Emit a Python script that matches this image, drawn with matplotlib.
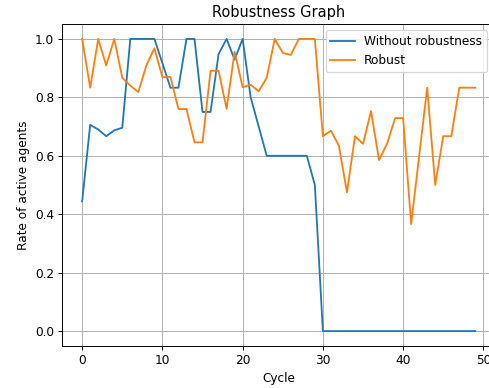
import matplotlib
matplotlib.use('Agg')
import matplotlib.pyplot as plt

cycles = list(range(50))

without_robustness = [
    0.444, 0.706, 0.69, 0.667, 0.687, 0.696, 1.0, 1.0, 1.0, 1.0,
    0.917, 0.833, 0.833, 1.0, 1.0, 0.75, 0.75, 0.948, 1.0, 0.929,
    1.0, 0.8, 0.7, 0.6, 0.6, 0.6, 0.6, 0.6, 0.6, 0.5,
    0.0, 0.0, 0.0, 0.0, 0.0, 0.0, 0.0, 0.0, 0.0, 0.0,
    0.0, 0.0, 0.0, 0.0, 0.0, 0.0, 0.0, 0.0, 0.0, 0.0,
]

robust = [
    1.0, 0.833, 1.0, 0.909, 1.0, 0.867, 0.84, 0.818, 0.909, 0.968,
    0.869, 0.87, 0.76, 0.76, 0.646, 0.646, 0.891, 0.891, 0.761, 0.956,
    0.835, 0.843, 0.821, 0.867, 1.0, 0.952, 0.945, 1.0, 1.0, 1.0,
    0.667, 0.686, 0.634, 0.475, 0.667, 0.641, 0.753, 0.585, 0.641, 0.729,
    0.729, 0.366, 0.6, 0.833, 0.5, 0.667, 0.667, 0.833, 0.833, 0.833,
]

W, H, DPI = 490, 388, 87
fig = plt.figure(figsize=(W / DPI, H / DPI), dpi=DPI)
# axes run slightly past the right edge of the canvas
ax = fig.add_axes([62.5 / W, 42.3 / H, (495 - 62.5) / W, (345.7 - 24.3) / H])

ax.plot(cycles, without_robustness, label='Without robustness')
ax.plot(cycles, robust, label='Robust')

ax.set_title('Robustness Graph')
ax.set_xlabel('Cycle')
ax.set_ylabel('Rate of active agents')
ax.grid(True)
ax.legend(loc='upper right', bbox_to_anchor=(0.9955, 1.0))

fig.savefig('out.png', dpi=DPI)
plt.close(fig)
